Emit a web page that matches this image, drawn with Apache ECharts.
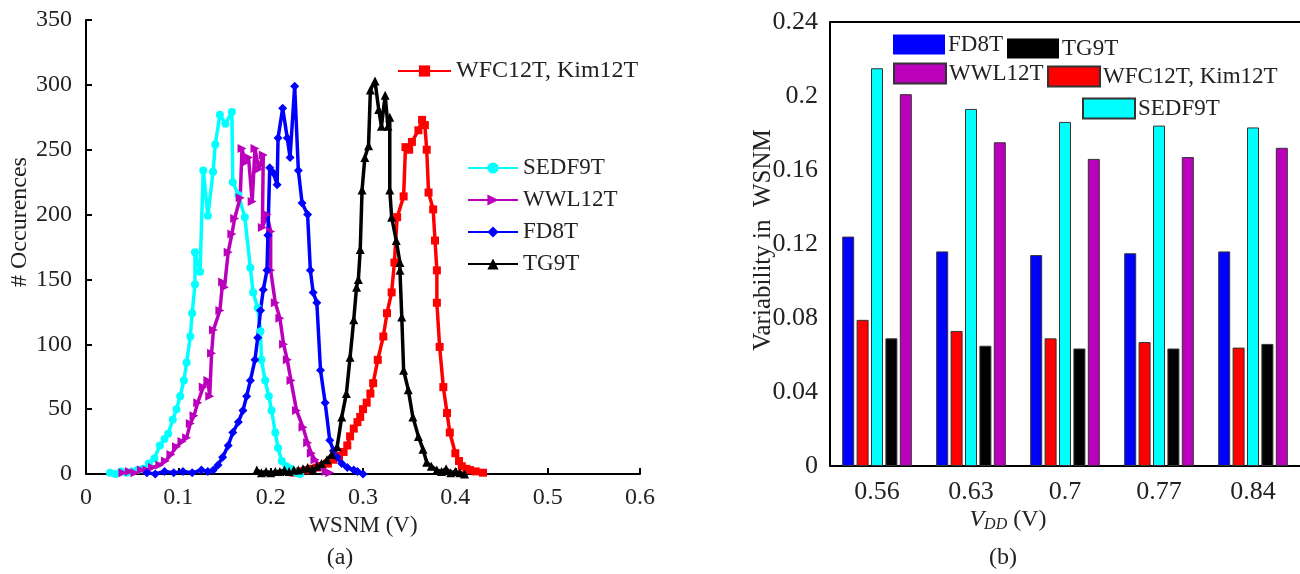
<!DOCTYPE html>
<html><head><meta charset="utf-8">
<script src="https://cdn.jsdelivr.net/npm/echarts@6/dist/echarts.min.js"></script>
<style>html,body{margin:0;padding:0;background:#fff}#c{width:1300px;height:574px}</style>
</head><body><div id="c"></div>
<script>
// ---------- (a) histogram data: [WSNM (V), # occurrences] ----------
const sedf9t = [[0.026,1],[0.032,0],[0.038,2],[0.044,1],[0.05,2],[0.056,3],[0.062,4],[0.068,8],[0.074,12],[0.08,22],[0.085,27],[0.089,31],[0.094,42],[0.098,50],[0.102,60],[0.106,72],[0.109,86],[0.113,106],[0.115,124],[0.118,146],[0.118,171],[0.1235,156],[0.127,234],[0.132,199],[0.1376,233],[0.14,254],[0.145,277],[0.151,270],[0.158,279],[0.159,225],[0.165,215],[0.172,198],[0.178,159],[0.181,140],[0.186,128],[0.189,110],[0.19,88],[0.194,72],[0.198,60],[0.201,49],[0.205,32],[0.208,20],[0.212,10],[0.217,6],[0.222,4],[0.227,1],[0.232,0]];
const wwl12t = [[0.04,1],[0.047,2],[0.053,1],[0.06,3],[0.066,3],[0.072,5],[0.08,7],[0.086,10],[0.092,15],[0.098,21],[0.104,25],[0.109,28],[0.113,39],[0.117,45],[0.121,55],[0.127,67],[0.132,72],[0.134,60],[0.136,93],[0.138,111],[0.145,126],[0.148,148],[0.15,144],[0.154,171],[0.158,185],[0.161,197],[0.167,213],[0.169,251],[0.172,240],[0.176,244],[0.18,210],[0.183,251],[0.187,235],[0.192,246],[0.191,190],[0.196,200],[0.2,187],[0.2,157],[0.205,132],[0.21,120],[0.214,100],[0.218,88],[0.222,72],[0.228,49],[0.235,36],[0.24,24],[0.244,16],[0.248,11],[0.254,5],[0.26,2],[0.264,1]];
const fd8t = [[0.066,1],[0.075,0],[0.085,2],[0.095,1],[0.105,2],[0.115,1],[0.125,3],[0.132,2],[0.138,3],[0.143,7],[0.148,13],[0.154,22],[0.159,32],[0.165,40],[0.17,49],[0.174,60],[0.178,72],[0.183,88],[0.186,105],[0.189,126],[0.192,142],[0.196,157],[0.197,184],[0.199,236],[0.203,232],[0.207,223],[0.208,259],[0.213,282],[0.218,259],[0.221,244],[0.226,299],[0.23,234],[0.234,209],[0.24,200],[0.243,157],[0.246,140],[0.25,132],[0.254,80],[0.259,55],[0.264,26],[0.268,18],[0.272,13],[0.277,8],[0.283,5],[0.29,3],[0.294,2],[0.3,0]];
const tg9t = [[0.185,3],[0.19,1],[0.195,2],[0.2,1],[0.205,2],[0.21,2],[0.215,3],[0.22,2],[0.225,3],[0.23,3],[0.235,4],[0.24,5],[0.245,4],[0.25,6],[0.255,8],[0.261,11],[0.266,15],[0.272,21],[0.277,44],[0.282,62],[0.286,90],[0.29,119],[0.293,144],[0.295,150],[0.297,173],[0.299,219],[0.302,244],[0.306,253],[0.308,296],[0.313,303],[0.317,281],[0.32,268],[0.324,292],[0.327,268],[0.329,275],[0.329,219],[0.331,198],[0.336,180],[0.34,163],[0.34,157],[0.342,121],[0.344,80],[0.349,65],[0.354,44],[0.36,29],[0.365,19],[0.369,9],[0.374,6],[0.38,3],[0.385,2],[0.39,4],[0.395,1],[0.4,2],[0.405,1],[0.41,0]];
const wfc12t = [[0.218,3],[0.225,1],[0.232,2],[0.238,3],[0.244,4],[0.25,5],[0.256,6],[0.262,8],[0.268,11],[0.274,14],[0.279,17],[0.283,22],[0.286,29],[0.29,35],[0.294,40],[0.297,44],[0.3,50],[0.304,55],[0.308,62],[0.311,70],[0.316,88],[0.322,106],[0.326,124],[0.331,140],[0.334,163],[0.337,198],[0.344,214],[0.346,252],[0.35,250],[0.353,256],[0.36,265],[0.364,273],[0.367,269],[0.369,250],[0.371,217],[0.376,204],[0.378,180],[0.38,157],[0.38,132],[0.383,98],[0.387,67],[0.391,47],[0.394,32],[0.4,16],[0.404,10],[0.407,6],[0.412,4],[0.416,3],[0.422,2],[0.43,1]];

// ---------- (b) variability data ----------
const vdd = ['0.56','0.63','0.7','0.77','0.84'];
const varFD8T = [0.124,0.116,0.114,0.115,0.116];
const varWFC  = [0.079,0.073,0.069,0.067,0.064];
const varSEDF = [0.215,0.193,0.186,0.184,0.183];
const varTG9T = [0.069,0.065,0.0635,0.0635,0.066];
const varWWL  = [0.201,0.175,0.166,0.167,0.172];

const F = 'Liberation Serif';
const TC = '#222';
const C = {cyan:'#00ffff', mag:'#bb00bb', blue:'#0000ff', black:'#000000', red:'#ff0000'};

function lineS(name, data, color, symbol, size, rot){
  return {name, type:'line', xAxisIndex:0, yAxisIndex:0, data, symbol, symbolSize:size,
    symbolRotate: rot||0, showSymbol:true, lineStyle:{width:3.5,color}, itemStyle:{color},
    emphasis:{disabled:true}, animation:false};
}
function barS(name, data, color){
  return {name, type:'bar', xAxisIndex:1, yAxisIndex:1, data, barWidth:12, barGap:'20%',
    itemStyle:{color, borderColor:'#333', borderWidth:1}, emphasis:{disabled:true}, animation:false};
}
function barLegend(name, left, top){
  return {data:[name], left, top, padding:0, icon:'rect', itemWidth:52, itemHeight:20,
    selectedMode:false, textStyle:{fontFamily:F, fontSize:23, color:TC, padding:[0,0,0,-2]}};
}

const chart = echarts.init(document.getElementById('c'));
chart.setOption({
  backgroundColor:'#fff',
  animation:false,
  grid:[
    {left:86, top:20, width:554, height:454},
    {left:830, top:22, width:480, height:444}
  ],
  xAxis:[
    {type:'value', gridIndex:0, min:0, max:0.6, interval:0.1,
     axisLine:{lineStyle:{color:'#000', width:2}}, axisTick:{inside:true, length:6, lineStyle:{color:'#000',width:2}},
     axisLabel:{fontFamily:F, fontSize:24, color:TC, margin:12, formatter:v=>String(+v.toFixed(1))},
     splitLine:{show:false},
     name:'WSNM (V)', nameLocation:'middle', nameGap:37, nameTextStyle:{fontFamily:F, fontSize:23, color:TC}},
    {type:'category', gridIndex:1, data:vdd, position:'bottom',
     axisLine:{lineStyle:{color:'#000', width:2}}, axisTick:{show:false},
     axisLabel:{fontFamily:F, fontSize:26, color:TC, margin:13}},
    {type:'category', gridIndex:1, data:vdd, position:'top',
     axisLine:{lineStyle:{color:'#000', width:2}}, axisTick:{inside:true, alignWithLabel:true, length:6, lineStyle:{color:'#000'}},
     axisLabel:{show:false}}
  ],
  yAxis:[
    {type:'value', gridIndex:0, min:0, max:350, interval:50,
     axisLine:{show:true, lineStyle:{color:'#000', width:2}}, axisTick:{show:true, inside:true, length:6, lineStyle:{color:'#000',width:2}},
     axisLabel:{fontFamily:F, fontSize:24, color:TC, margin:14}, splitLine:{show:false}},
    {type:'value', gridIndex:1, min:0, max:0.24, interval:0.04,
     axisLine:{show:true, lineStyle:{color:'#000', width:2}}, axisTick:{show:false},
     axisLabel:{fontFamily:F, fontSize:26, color:TC, margin:12, formatter:v=>String(+v.toFixed(2))}, splitLine:{show:false}}
  ],
  legend:[
    {data:['WFC12T, Kim12T'], left:397, top:59, padding:0, itemWidth:53, itemHeight:14, selectedMode:false,
     textStyle:{fontFamily:F, fontSize:24, color:TC, lineHeight:24}},
    {data:['SEDF9T','WWL12T','FD8T','TG9T'], orient:'vertical', left:467, top:156, padding:0, itemGap:8,
     itemWidth:50, itemHeight:14, selectedMode:false, textStyle:{fontFamily:F, fontSize:23, color:TC, lineHeight:24}},
    barLegend('FD8T', 893, 33),
    barLegend('TG9T', 1007, 37),
    barLegend('WWL12T ', 893, 62),
    barLegend('WFC12T, Kim12T ', 1047, 65),
    barLegend('SEDF9T ', 1082, 97)
  ],
  series:[
    lineS('WFC12T, Kim12T', wfc12t, C.red, 'rect', 8),
    lineS('SEDF9T', sedf9t, C.cyan, 'circle', 8),
    lineS('WWL12T', wwl12t, C.mag, 'triangle', 9, -90),
    lineS('FD8T', fd8t, C.blue, 'diamond', 9),
    lineS('TG9T', tg9t, C.black, 'triangle', 9),
    Object.assign(barS('FD8T', varFD8T, C.blue), {name:'FD8T '}),
    barS('WFC12T, Kim12T ', varWFC, C.red),
    barS('SEDF9T ', varSEDF, C.cyan),
    Object.assign(barS('TG9T', varTG9T, C.black), {name:'TG9T '}),
    barS('WWL12T ', varWWL, C.mag)
  ],
  graphic:[
    {type:'text', x:20, y:222, rotation:Math.PI/2,
     style:{text:'# Occurences', fontFamily:F, fontSize:24, fill:TC, textAlign:'center', textVerticalAlign:'middle'}},
    {type:'text', x:763, y:240, rotation:Math.PI/2,
     style:{text:'Variability in  WSNM', fontFamily:F, fontSize:25, fill:TC, textAlign:'center', textVerticalAlign:'middle'}},
    {type:'text', x:1008, y:520,
     style:{text:'{i|V}{s|DD} (V)', fontFamily:F, fontSize:24, fill:TC, textAlign:'center', textVerticalAlign:'middle',
       rich:{i:{fontFamily:F, fontSize:24, fontStyle:'italic', fill:TC}, s:{fontFamily:F, fontSize:16, fontStyle:'italic', fill:TC, padding:[9,0,0,0]}}}},
    {type:'text', x:340, y:558, style:{text:'(a)', fontFamily:F, fontSize:24, fill:TC, textAlign:'center', textVerticalAlign:'middle'}},
    {type:'text', x:1003, y:558, style:{text:'(b)', fontFamily:F, fontSize:24, fill:TC, textAlign:'center', textVerticalAlign:'middle'}}
  ]
});
</script></body></html>
